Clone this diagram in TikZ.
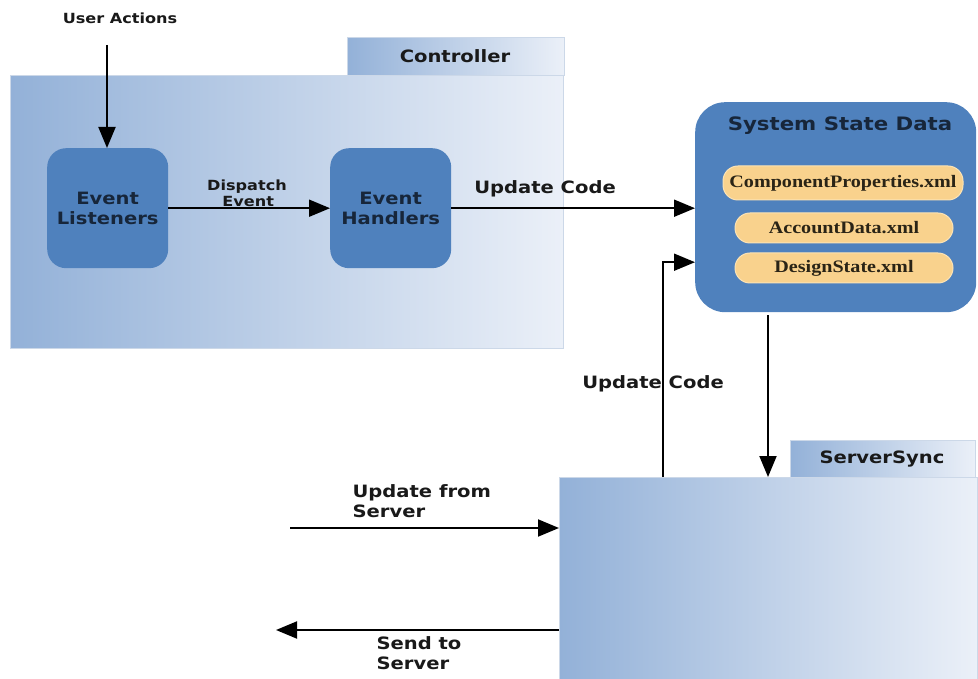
\documentclass[tikz,border=0pt]{standalone}
\usepackage{fontspec}
\setmainfont[FakeStretch=1.15]{DejaVu Sans}
\newfontfamily\pillfont[FakeStretch=1.15]{Liberation Serif}
\usetikzlibrary{arrows.meta}

\definecolor{boxblue}{HTML}{4F81BD}
\definecolor{shadeL}{HTML}{93B1D8}
\definecolor{shadeR}{HTML}{EBF0F8}
\definecolor{edge}{HTML}{CCD8E8}
\definecolor{pillfill}{HTML}{F9D28D}
\definecolor{pilledge}{HTML}{FCE3B5}
\definecolor{boxtext}{HTML}{17263A}
\definecolor{pilltext}{HTML}{2A2416}

\tikzset{
  container/.style={anchor=north west, shade, shading angle=90,
    left color=shadeL, right color=shadeR, draw=edge, line width=0.8pt,
    inner sep=0pt},
  eventbox/.style={anchor=north west, fill=boxblue, rounded corners=19pt,
    minimum width=121pt, minimum height=120pt, align=center,
    text=boxtext, font=\fontsize{17}{20}\selectfont\bfseries},
  pill/.style={fill=pillfill, draw=pilledge, line width=1pt,
    rounded corners=15pt, inner sep=0pt, text=pilltext,
    font=\pillfont\fontsize{17.5}{19}\selectfont\bfseries},
  biglabel/.style={font=\fontsize{17}{20}\selectfont\bfseries, text=black!90},
  smalllabel/.style={font=\fontsize{14}{16}\selectfont\bfseries, text=black!90},
  arr/.style={line width=1.9pt, -{Triangle[length=21pt,width=17pt]}}
}

\begin{document}
\begin{tikzpicture}[x=1pt,y=-1pt]
\useasboundingbox (0,0) rectangle (978,679);

% Controller package
\node[container, minimum width=217pt, minimum height=38pt] (ctab) at (347,37) {};
\node[container, minimum width=553pt, minimum height=273pt] (ctrl) at (10,75) {};
\node[biglabel] (ctitle) at (455,56) {Controller};

% event boxes
\node[eventbox] (el) at (47,148) {Event\\Listeners};
\node[eventbox] (eh) at (330,148) {Event\\Handlers};

% system state data
\node[anchor=north west, fill=boxblue, rounded corners=30pt,
  minimum width=281pt, minimum height=210pt] (ssd) at (695,102) {};
\node[font=\fontsize{18.5}{20}\selectfont\bfseries, text=boxtext] (ssdtitle) at (840,126) {System State Data};
\node[pill, minimum width=240pt, minimum height=34pt] (p1) at (843,183) {ComponentProperties.xml};
\node[pill, minimum width=218pt, minimum height=30pt] (p2) at (844,228) {AccountData.xml};
\node[pill, minimum width=218pt, minimum height=30pt] (p3) at (844,268) {DesignState.xml};

% ServerSync package
\node[container, minimum width=185pt, minimum height=37pt] (stab) at (790,440) {};
\node[container, minimum width=418pt, minimum height=204pt] (sync) at (559,477) {};
\node[biglabel] (stitle) at (882,459) {ServerSync};

% labels
\node[smalllabel] (ua) at (120,18) {User Actions};
\node[smalllabel, align=center] (de) at (247,193) {Dispatch\\\,Event};
\node[biglabel] (uc1) at (545,189) {Update Code};
\node[biglabel] (uc2) at (653,384) {Update Code};
\node[biglabel, anchor=west, align=left] (ufs) at (349,501) {Update from\\Server};
\node[biglabel, anchor=west, align=left] (sts) at (373,653) {Send to\\Server};

% free ends
\coordinate (uastart) at (107,45);
\coordinate (infrom) at (290,528);
\coordinate (outto) at (276,630);

% connectors
\draw[arr] (uastart) -- (uastart |- el.north);
\draw[arr] (el.east) -- (eh.west);
\draw[arr] (eh.east) -- (eh.east -| ssd.west);
\draw[arr] ([xshift=104pt]sync.north west) |- ([yshift=-55pt]ssd.west);
\draw[arr] ([xshift=73pt,yshift=-3pt]ssd.south west) -- ([xshift=209pt]sync.north west);
\draw[arr] (infrom) -- (infrom -| sync.west);
\draw[arr] (outto -| sync.west) -- (outto);
\end{tikzpicture}
\end{document}
